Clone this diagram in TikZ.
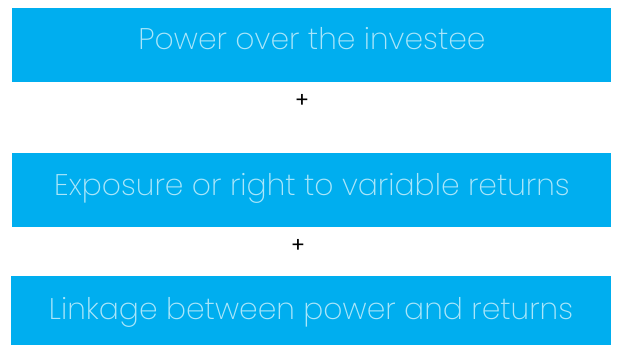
\documentclass[tikz,border=0pt]{standalone}
\usepackage{fontspec}
\setmainfont{Poppins}[UprightFont=* ExtraLight]
\newfontfamily\plusfont{Poppins}
\usepackage{tikz}
\definecolor{boxblue}{RGB}{0,174,239}
\definecolor{boxtext}{RGB}{170,230,250}

\begin{document}
\begin{tikzpicture}[x=1pt,y=-1pt,
  bluebox/.style={fill=boxblue, draw=none, minimum width=599pt, minimum height=74pt, inner sep=0pt},
  boxlabel/.style={text=boxtext, font=\fontsize{29.8}{31}\selectfont, anchor=base, inner sep=0pt},
  plus/.style={font=\plusfont\fontsize{21}{21}\selectfont, inner sep=0pt}]

\useasboundingbox (0,0) rectangle (617,347);

\node[bluebox] (power) at (311.5,45) {};
\node[bluebox] (exposure) at (311.5,190) {};
\node[bluebox, minimum width=600pt, minimum height=69pt] (linkage) at (311,310.5) {};

\node[boxlabel] (powertext) at (312,50) {Power over the investee};
\node[boxlabel] (exposuretext) at (312,195) {Exposure or right to variable returns};
\node[boxlabel] (linkagetext) at (311,319) {Linkage between power and returns};

\node[plus] (plusone) at (302,101) {+};
\node[plus] (plustwo) at (298,246) {+};
\end{tikzpicture}
\end{document}
